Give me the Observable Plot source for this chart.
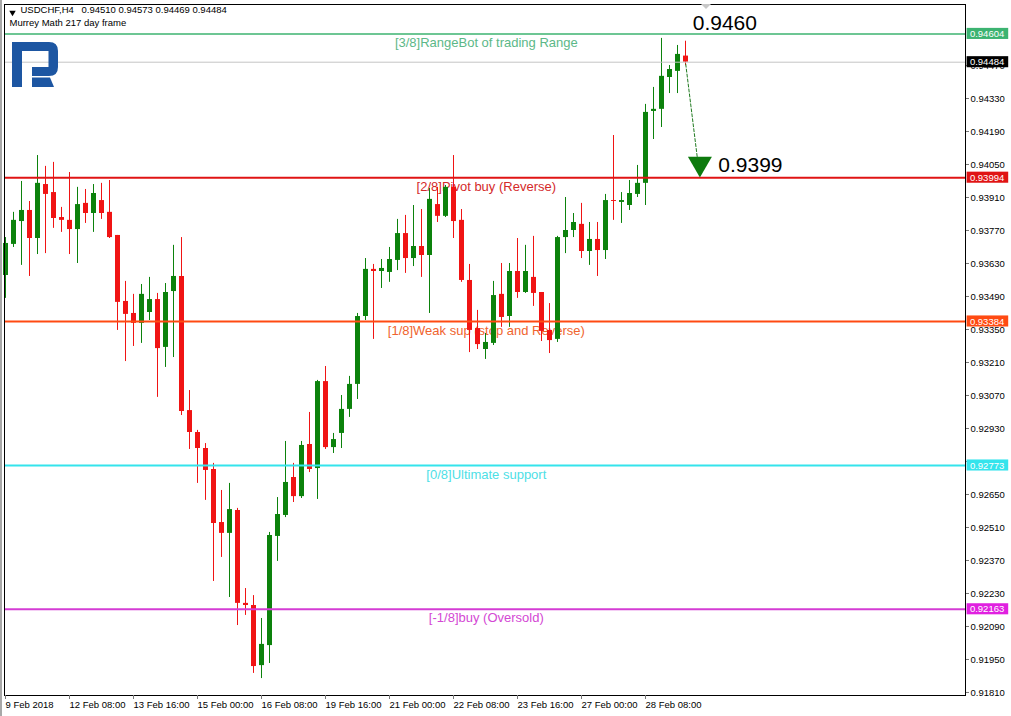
<!DOCTYPE html>
<html>
<head>
<meta charset="utf-8">
<script src="https://cdn.jsdelivr.net/npm/d3@7"></script>
<script src="https://cdn.jsdelivr.net/npm/@observablehq/plot@0.6"></script>
<style>
  html, body { margin: 0; padding: 0; background: #fff; }
  #chart { position: relative; width: 1011px; height: 716px; overflow: hidden; }
  #chart svg { display: block; }
</style>
</head>
<body>
<div id="chart"></div>
<script>
// USDCHF H4 candles, 9 Feb 2018 00:00 onwards (one entry per 4-hour bar)
const open = [
  0.93579,0.93711,0.93808,0.93855,0.93736,0.93965,0.93931,0.93825,0.93813,0.93774,
  0.93885,0.93842,0.93897,0.93847,0.93749,0.93469,0.93418,0.93376,0.93422,0.93477,
  0.93274,0.93511,0.93575,0.93006,0.92913,0.92845,0.92756,0.92531,0.92485,0.92582,
  0.92188,0.92179,0.91924,0.92009,0.92472,0.92561,0.92722,0.92641,0.92862,0.92760,
  0.93129,0.92849,0.92909,0.93011,0.93117,0.93405,0.93605,0.93596,0.93592,0.93643,
  0.93757,0.93651,0.93702,0.93664,0.93880,0.93830,0.93953,0.93813,0.93558,0.93354,
  0.93265,0.93291,0.93499,0.93405,0.93596,0.93507,0.93571,0.93507,0.93346,0.93308,
  0.93740,0.93770,0.93796,0.93681,0.93732,0.93685,0.93897,0.93889,0.93876,0.93923,
  0.93970,0.94275,0.94284,0.94419,0.94445,0.94510];
const high = [
  0.93740,0.93847,0.93978,0.93893,0.94088,0.94042,0.94059,0.93868,0.94016,0.93953,
  0.93944,0.93965,0.93970,0.93982,0.93749,0.93554,0.93499,0.93541,0.93571,0.93503,
  0.93545,0.93707,0.93740,0.93091,0.92922,0.92866,0.92782,0.92667,0.92697,0.92591,
  0.92251,0.92221,0.92124,0.92489,0.92637,0.92875,0.92782,0.92875,0.92998,0.93134,
  0.93193,0.92909,0.93070,0.93151,0.93418,0.93651,0.93626,0.93647,0.93698,0.93817,
  0.93834,0.93876,0.93859,0.93948,0.93953,0.93961,0.94088,0.93859,0.93626,0.93431,
  0.93333,0.93554,0.93630,0.93630,0.93736,0.93707,0.93745,0.93507,0.93460,0.93745,
  0.93910,0.93842,0.93885,0.93804,0.93804,0.93923,0.94173,0.93931,0.93982,0.94046,
  0.94305,0.94377,0.94585,0.94470,0.94555,0.94573];
const low = [
  0.93482,0.93698,0.93622,0.93575,0.93668,0.93672,0.93779,0.93762,0.93668,0.93630,
  0.93800,0.93762,0.93817,0.93736,0.93346,0.93214,0.93278,0.93291,0.93388,0.93062,
  0.93189,0.93231,0.92985,0.92841,0.92697,0.92625,0.92281,0.92383,0.92213,0.92094,
  0.92137,0.91891,0.91869,0.91933,0.92366,0.92552,0.92616,0.92633,0.92743,0.92629,
  0.92841,0.92824,0.92845,0.92977,0.93053,0.93388,0.93308,0.93524,0.93550,0.93600,
  0.93588,0.93617,0.93571,0.93418,0.93804,0.93825,0.93736,0.93550,0.93252,0.93265,
  0.93223,0.93282,0.93359,0.93359,0.93482,0.93503,0.93448,0.93299,0.93248,0.93295,
  0.93672,0.93740,0.93651,0.93622,0.93575,0.93647,0.93813,0.93800,0.93855,0.93910,
  0.93876,0.94156,0.94207,0.94351,0.94351,0.94469];
const close = [
  0.93715,0.93813,0.93855,0.93736,0.93970,0.93923,0.93821,0.93813,0.93774,0.93880,
  0.93842,0.93927,0.93842,0.93740,0.93465,0.93414,0.93376,0.93499,0.93477,0.93269,
  0.93507,0.93575,0.93002,0.92913,0.92845,0.92752,0.92527,0.92485,0.92586,0.92188,
  0.92179,0.91920,0.92014,0.92476,0.92565,0.92701,0.92641,0.92858,0.92756,0.93129,
  0.92849,0.92883,0.93011,0.93117,0.93405,0.93605,0.93596,0.93609,0.93647,0.93757,
  0.93651,0.93702,0.93664,0.93902,0.93830,0.93953,0.93808,0.93558,0.93346,0.93286,
  0.93295,0.93494,0.93401,0.93596,0.93507,0.93596,0.93503,0.93342,0.93303,0.93740,
  0.93770,0.93804,0.93681,0.93732,0.93685,0.93897,0.93893,0.93897,0.93927,0.93970,
  0.94271,0.94284,0.94424,0.94453,0.94517,0.94484];

// Murrey Math levels (217 day frame)
const levelValues = [0.94604, 0.93994, 0.93384, 0.92773, 0.92163];
const levelNames = [
  "[3/8]RangeBot of trading Range",
  "[2/8]Pivot buy (Reverse)",
  "[1/8]Weak sup (stop and Reverse)",
  "[0/8]Ultimate support",
  "[-1/8]buy (Oversold)"];
const levelLineColors = ["#3cb371", "#e01414", "#ff4a12", "#34e4ec", "#d43cd4"];
const levelTextColors = ["#5cb888", "#d42a2a", "#f0642e", "#4ee0e6", "#d448d4"];
const levelWidths = [1.5, 2, 2, 2, 2];

// Price axis ticks (the 0.92790 label sits under the 0/8 tag) and time axis labels
const priceTicks = [0.91810,0.91950,0.92090,0.92230,0.92370,0.92510,0.92650,0.92790,
  0.92930,0.93070,0.93210,0.93350,0.93490,0.93630,0.93770,0.93910,0.94050,0.94190,
  0.94330,0.94470];
const hiddenPriceLabels = [0.92790];
const dateTickBars = [0, 8, 16, 24, 32, 40, 48, 56, 64, 72, 80];
const dateTickLabels = ["9 Feb 2018","12 Feb 08:00","13 Feb 16:00","15 Feb 00:00",
  "16 Feb 08:00","19 Feb 16:00","21 Feb 00:00","22 Feb 08:00","23 Feb 16:00",
  "27 Feb 00:00","28 Feb 08:00"];

// Quote header and forecast
const symbolName = "USDCHF,H4";
const indicatorName = "Murrey Math 217 day frame";
const bid = 0.94484;
const resistanceLabel = 0.9460;
const forecastTarget = 0.9399;

const GREEN = "#0c820c";
const RED = "#f01414";

const bars = open.map((o, i) => ({i, o, h: high[i], l: low[i], c: close[i], up: close[i] > o}));
const levels = levelValues.map((v, k) => ({
  v, name: levelNames[k], line: levelLineColors[k], text: levelTextColors[k], w: levelWidths[k]
}));
const priceBoxes = [
  {v: levelValues[0], bg: levelLineColors[0]},
  {v: bid, bg: "#000000"},
  {v: levelValues[1], bg: levelLineColors[1]},
  {v: levelValues[2], bg: levelLineColors[2]},
  {v: levelValues[3], bg: levelLineColors[3]},
  {v: levelValues[4], bg: "#e020e0"}
];
const dateMap = new Map(dateTickBars.map((b, k) => [b, dateTickLabels[k]]));
const last = bars[bars.length - 1];
const target = {x: 86.8, y: forecastTarget};
const fmt5 = d3.format(".5f");
const fmt4 = d3.format(".4f");
const labelledTicks = priceTicks.filter(t => !hiddenPriceLabels.includes(t));

// 8 px per bar slot; plot box spans slots -0.125 … 120
const BOX_H = 0.000235;
const chart = Plot.plot({
  width: 1011, height: 716,
  marginTop: 4, marginRight: 46, marginBottom: 21, marginLeft: 4,
  style: {fontFamily: "'Liberation Sans', Arial, sans-serif", fontSize: "9.5px", background: "#fff", color: "#000", overflow: "visible"},
  x: {domain: [-0.125, 120], axis: null},
  y: {domain: [0.917972, 0.947288], axis: null},
  color: {type: "identity"},
  marks: [
    // level captions sit behind the candles
    Plot.text(levels, {x: 60.1, y: "v", text: "name", fill: "text", dy: 9, fontSize: 13}),
    // wicks and bodies
    Plot.ruleX(bars, {x: "i", y1: "l", y2: "h", stroke: d => d.up ? GREEN : RED, strokeWidth: 1}),
    Plot.ruleX(bars, {x: "i", y1: "o", y2: "c", stroke: d => d.up ? GREEN : RED, strokeWidth: 5}),
    // bid line and Murrey Math levels
    Plot.ruleY([bid], {stroke: "#c4c4c4", strokeWidth: 1}),
    Plot.ruleY(levels, {y: "v", stroke: "line", strokeWidth: "w"}),
    // forecast: dashed path from the last close to the target marker
    Plot.arrow([{x1: last.i, y1: last.c, x2: target.x, y2: target.y}], {
      x1: "x1", y1: "y1", x2: "x2", y2: "y2", stroke: "#1f7a1f", strokeWidth: 1,
      strokeDasharray: "3,2", headLength: 0, insetEnd: 21, insetStart: 2
    }),
    Plot.dot([target], {x: "x", y: "y", symbol: "triangle", rotate: 180, r: 8.9, fill: "#0d7a0d", stroke: "none", dy: -15}),
    Plot.text([target], {x: 89.1, y: "y", text: d => fmt4(d.y), textAnchor: "start", fontSize: 21, dy: -13}),
    Plot.text([resistanceLabel], {x: 85.9, y: d => d, text: d => fmt4(d), textAnchor: "start", fontSize: 21, dy: -12}),
    // frame and axes
    Plot.frame({stroke: "#000"}),
    Plot.axisY(priceTicks, {anchor: "right", tickSize: 3, stroke: "#777", text: null}),
    Plot.axisY(labelledTicks, {anchor: "right", tickSize: 0, tickPadding: 5, tickFormat: ".5f", fontSize: 9.5}),
    Plot.axisX(dateTickBars, {anchor: "bottom", tickSize: 4, tickPadding: 2, tickFormat: d => dateMap.get(d), textAnchor: "start", dx: 0, fontSize: 9.5, stroke: "#777"}),
    // coloured price tags on the right scale
    Plot.rect(priceBoxes, {x1: 120.2, x2: 125.4, y1: d => d.v - BOX_H, y2: d => d.v + BOX_H, fill: "bg"}),
    Plot.text(priceBoxes, {x: 120.55, y: "v", text: d => fmt5(d.v), fill: "#fff", textAnchor: "start", fontSize: 9.5}),
    // header
    Plot.dot([0], {frameAnchor: "top-left", dx: 8, dy: 8, symbol: "triangle", rotate: 180, r: 2.4, fill: "#000", stroke: "none"}),
    Plot.text([symbolName], {frameAnchor: "top-left", dx: 16, dy: 2, fontSize: 9.5, fill: "#000"}),
    Plot.text([[open[85], high[85], low[85], close[85]].map(fmt5).join(" ")], {frameAnchor: "top-left", dx: 77, dy: 2, fontSize: 9.5, fill: "#000"}),
    Plot.text([indicatorName], {frameAnchor: "top-left", dx: 5, dy: 15, fontSize: 9.5, fill: "#000"})
  ]
});

document.getElementById("chart").appendChild(chart);

// window edge and chart-shift marker
const svg = d3.select(chart);
svg.append("rect").attr("x", 0).attr("y", 0).attr("width", 2).attr("height", 716).attr("fill", "#a8a8a8");
svg.append("path").attr("d", "M701,4 L711,4 L706,9 Z").attr("fill", "#c8c8c8");

// broker logo
const logo = svg.append("g").attr("fill", "#1d56a2");
logo.append("path").attr("d", "M12,42 H49 Q58,42 58,51 V67 Q58,76 49,76 H32 V67 H48.5 V51 H22 V87 H12 Z");
logo.append("path").attr("d", "M32,77.5 H50 L54,87 H32 Z");
</script>
</body>
</html>
